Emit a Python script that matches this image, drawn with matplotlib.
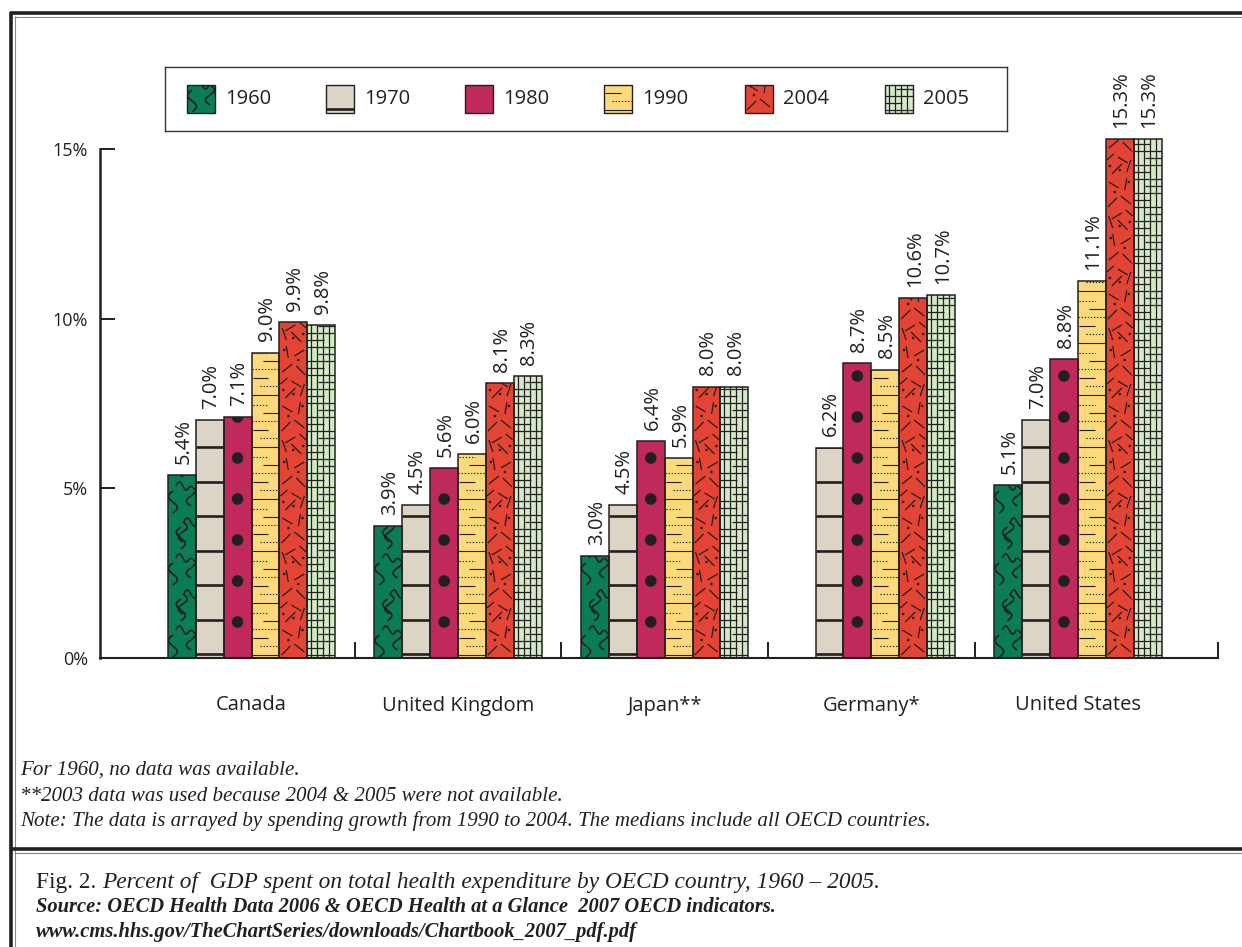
import numpy as np
import matplotlib
matplotlib.use('Agg')
import matplotlib.pyplot as plt
from matplotlib.patches import Rectangle, Ellipse
from matplotlib.lines import Line2D

# ---------------- data ----------------
countries = ['Canada', 'United Kingdom', 'Japan**', 'Germany*', 'United States']
years = ['1960', '1970', '1980', '1990', '2004', '2005']
v1960 = [5.4, 3.9, 3.0, np.nan, 5.1]
v1970 = [7.0, 4.5, 4.5, 6.2, 7.0]
v1980 = [7.1, 5.6, 6.4, 8.7, 8.8]
v1990 = [9.0, 6.0, 5.9, 8.5, 11.1]
v2004 = [9.9, 8.1, 8.0, 10.6, 15.3]
v2005 = [9.8, 8.3, 8.0, 10.7, 15.3]
series = [v1960, v1970, v1980, v1990, v2004, v2005]
colors = ['#0b7d55', '#dcd4c4', '#c02a5b', '#fcd97a', '#e44434', '#d4eac7']
yticks = [0, 5, 10, 15]
ytick_labels = ['0%', '5%', '10%', '15%']

footnotes = ['For 1960, no data was available.',
             '**2003 data was used because 2004 & 2005 were not available.',
             'Note: The data is arrayed by spending growth from 1990 to 2004. The medians include all OECD countries.']
cap_fig = 'Fig. 2. '
cap_title = 'Percent of  GDP spent on total health expenditure by OECD country, 1960 \u2013 2005.'
cap_source = 'Source: OECD Health Data 2006 & OECD Health at a Glance  2007 OECD indicators.'
cap_url = 'www.cms.hhs.gov/TheChartSeries/downloads/Chartbook_2007_pdf.pdf'

plt.rcParams['font.family'] = ['Open Sans', 'DejaVu Sans']
INK = '#231f20'

W, H = 1242, 947
fig = plt.figure(figsize=(W / 100, H / 100), dpi=100)

def fx(px):
    return px / W

def fy(py):
    return 1 - py / H


# ---------------- pattern helpers ----------------
def draw_pattern(a, key, x0, y0, wpx, hpx, sx, sy, clip, z=2.5):
    lines = []
    dots = []

    def add(xs, ys, lw=1.0, ls='-'):
        lines.append((np.asarray(xs, float), np.asarray(ys, float), lw, ls))

    if key == 0:  # squiggles
        u = np.linspace(0, 1, 30)
        for k in range(int(hpx / 36) + 2):
            b = k * 36
            s = (k % 2) * 8
            add(5 + s + 4.5 * np.sin(2 * np.pi * u), b + 1 + 22 * u, 1.2)
            add(8 + s + 14 * u, b + 28 + 4 * np.sin(2 * np.pi * u), 1.2)
            add(23 - s + 4.5 * np.sin(2 * np.pi * u + np.pi), b + 8 + 20 * u, 1.2)
    elif key == 1:  # horizontal bands
        for k in range(int(hpx / 34.5) + 2):
            yy = 4 + 34.5 * k
            add([0, wpx], [yy, yy], 1.9)
    elif key == 2:  # dots
        for k in range(int(hpx / 41) + 2):
            dots.append((wpx / 2, 36 + 41 * k, 5.8))
    elif key == 3:  # fine horizontal lines
        tile = [(3, '-', 0, 1), (12, ':', 0.3, 0.95), (20, '-', 0.05, 0.6),
                (29, ':', 0, 1), (37, '-', 0.4, 1.0), (45, ':', 0.05, 0.6)]
        for k in range(int(hpx / 52) + 2):
            for dy, ls, xa, xb in tile:
                yy = 52 * k + dy
                add([xa * wpx, xb * wpx], [yy, yy], 0.8, '-' if ls == '-' else (0, (1.2, 1.6)))
    elif key == 4:  # scattered strokes
        segs = [(2, 3, 11, 12), (15, 14, 25, 6), (19, 20, 21, 32), (3, 28, 13, 22),
                (6, 36, 16, 46), (21, 38, 25, 50), (1, 50, 8, 56), (12, 53, 22, 47)]
        dts = [(9, 18), (23, 28), (14, 40), (4, 44)]
        for k in range(int(hpx / 56) + 2):
            b = 56 * k
            for (xa, ya, xb, yb) in segs:
                if k % 2:
                    xa, xb = wpx - xa, wpx - xb
                add([xa, xb], [b + ya, b + yb], 0.9)
            for (dx, dy) in dts:
                if k % 2:
                    dx = wpx - dx
                dots.append((dx, b + dy, 1.3))
    elif key == 5:  # grid
        for xx in [4, 10, 16, 22]:
            add([xx, xx], [0, hpx + 10], 0.9)
        spans = [(0, 1), (0, 0.6), (0, 1), (0.4, 1)]
        for k in range(int(hpx / 7) + 2):
            yy = 3 + 7 * k
            xa, xb = spans[k % 4]
            add([xa * wpx, xb * wpx], [yy, yy], 0.9)

    for xs, ys, lw, ls in lines:
        ln = Line2D(x0 + xs * sx, y0 + ys * sy, color=INK, lw=lw, ls=ls, zorder=z,
                    solid_capstyle='butt')
        a.add_line(ln)
        ln.set_clip_path(clip)
    for cx, cy, r in dots:
        e = Ellipse((x0 + cx * sx, y0 + cy * sy), 2 * r * sx, 2 * r * sy,
                    facecolor=INK, edgecolor='none', zorder=z)
        a.add_patch(e)
        e.set_clip_path(clip)


# ---------------- main axes ----------------
AX_L, AX_R, AX_B, AX_T = 100, 1218, 658, 115
ax = fig.add_axes([fx(AX_L), fy(AX_B), (AX_R - AX_L) / W, (AX_B - AX_T) / H])
group_px = 206.6
c0 = 251.5
xl = (AX_L - c0) / group_px
xr = (AX_R - c0) / group_px
ax.set_xlim(xl, xr)
ax.set_ylim(0, 16)
sx = (xr - xl) / (AX_R - AX_L)
sy = 16 / (AX_B - AX_T)

bw = 0.135
xs_base = np.arange(len(countries))
for j, (vals, col) in enumerate(zip(series, colors)):
    xpos = xs_base + (j - 2.5) * bw
    bars = ax.bar(xpos, vals, width=bw, color=col, edgecolor='none', zorder=2)
    ax.bar(xpos, vals, width=bw, fill=False, edgecolor=INK, linewidth=1.1, zorder=3)
    for xp, v, patch in zip(xpos, vals, bars.patches):
        if not np.isfinite(v):
            continue
        draw_pattern(ax, j, xp - bw / 2, 0, bw / sx, v / sy, sx, sy, patch)
        ax.annotate(f'{v:.1f}%', (xp, v), xytext=(1.2, 8), textcoords='offset points',
                    rotation=90, ha='center', va='bottom', fontsize=14.5, color=INK)

for s in ['top', 'right']:
    ax.spines[s].set_visible(False)
ax.spines['left'].set_linewidth(1.8)
ax.spines['left'].set_color(INK)
ax.spines['left'].set_bounds(0, 15)
ax.spines['bottom'].set_linewidth(1.5)
ax.spines['bottom'].set_color(INK)

ax.set_yticks(yticks, ytick_labels)
ax.tick_params(axis='y', direction='in', length=10.8, width=1.4, pad=8.6,
               labelsize=13, colors=INK)
ax.set_xticks(xs_base, countries)
ax.tick_params(axis='x', which='major', length=0, pad=27, labelsize=14.5, colors=INK)
ax.set_xticks([0.5, 1.5, 2.5, 3.5, xr], minor=True)
ax.tick_params(axis='x', which='minor', direction='in', length=11.5, width=1.4, color=INK)

# ---------------- legend ----------------
LG_L, LG_R, LG_T, LG_B = 165, 1007, 67, 131
lax = fig.add_axes([fx(LG_L), fy(LG_B), (LG_R - LG_L) / W, (LG_B - LG_T) / H])
lax.set_xlim(0, LG_R - LG_L)
lax.set_ylim(0, LG_B - LG_T)
lax.set_xticks([])
lax.set_yticks([])
for s in lax.spines.values():
    s.set_linewidth(1.0)
    s.set_color('#333333')
sw_x = [22, 161, 300, 439, 580, 720]
for j, (yr, col) in enumerate(zip(years, colors)):
    r = Rectangle((sw_x[j], 18), 28, 28, facecolor=col, edgecolor='none', zorder=2)
    lax.add_patch(r)
    draw_pattern(lax, j, sw_x[j], 18, 28, 28, 1.0, 1.0, r)
    lax.add_patch(Rectangle((sw_x[j], 18), 28, 28, fill=False, edgecolor=INK, lw=1.0, zorder=3))
    lax.text(sw_x[j] + 38, 32, yr, va='center', ha='left', fontsize=14.5, color=INK)

# ---------------- frame ----------------
def hline(y, x0, x1, lw, col):
    fig.add_artist(Line2D([fx(x0), fx(x1)], [fy(y), fy(y)], lw=lw, color=col,
                          transform=fig.transFigure, solid_capstyle='butt'))

def vline(x, y0, y1, lw, col):
    fig.add_artist(Line2D([fx(x), fx(x)], [fy(y0), fy(y1)], lw=lw, color=col,
                          transform=fig.transFigure, solid_capstyle='butt'))

hline(13.5, 9.5, W, 2.6, INK)
hline(17, 14, W, 0.8, '#888888')
vline(11, 12, H, 2.6, INK)
vline(15, 16, H, 0.8, '#888888')
hline(849, 9.5, W, 2.6, INK)
hline(852.5, 14, W, 0.8, '#888888')

# ---------------- footnotes & caption ----------------
fn_y = [770, 796, 821]
for t, yy in zip(footnotes, fn_y):
    fig.text(fx(20), fy(yy), t, fontsize=15.1, family='Liberation Serif', style='italic',
             va='center', ha='left', color=INK)

t1 = fig.text(fx(36), fy(882), cap_fig, fontsize=16.8, family='Liberation Serif',
              va='center', ha='left', color=INK)
fig.canvas.draw()
bb = t1.get_window_extent()
fig.text(bb.x1 / W, fy(882), cap_title, fontsize=16.8, family='Liberation Serif',
         style='italic', va='center', ha='left', color=INK)
fig.text(fx(36), fy(907), cap_source, fontsize=14.8, family='Liberation Serif',
         style='italic', weight='bold', va='center', ha='left', color=INK)
fig.text(fx(36), fy(932), cap_url, fontsize=14.8, family='Liberation Serif',
         style='italic', weight='bold', va='center', ha='left', color=INK)

fig.savefig('out.png', dpi=100)
